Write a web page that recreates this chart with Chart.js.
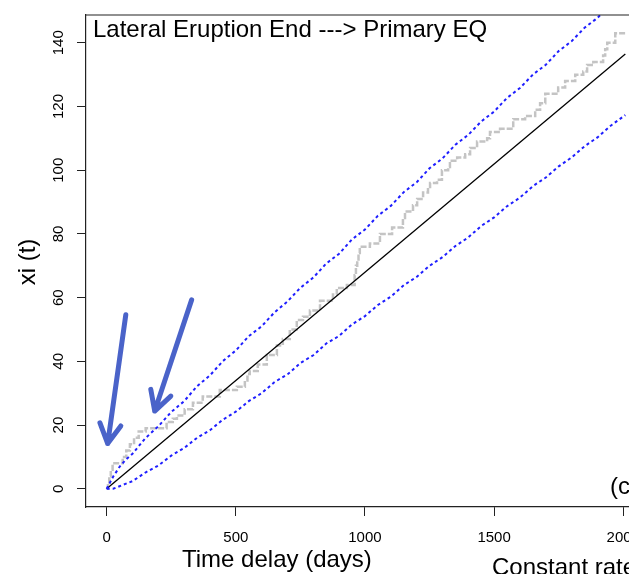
<!DOCTYPE html>
<html>
<head>
<meta charset="utf-8">
<script src="https://cdn.jsdelivr.net/npm/chart.js@4"></script>
<style>
  html, body { margin: 0; padding: 0; background: #fff; overflow: hidden; }
  #wrap { width: 700px; height: 574px; }
</style>
</head>
<body>
<div id="wrap"><canvas id="xiChart" width="700" height="574"></canvas></div>
<script>
// tick labels
const xTicks = [0, 500, 1000, 1500, 2000];
const yTicks = [0, 20, 40, 60, 80, 100, 120, 140];

// observed cumulative count (grey steps)
const eventDays = [0, 5, 10, 16, 23, 62, 76, 90, 106, 124, 151, 232, 256, 272, 302, 334, 372, 438, 504, 535, 545, 554,
  585, 620, 659, 682, 709, 736, 760, 787, 826, 876, 891, 930, 960, 965, 970, 975, 980, 1019, 1058, 1105, 1147, 1155,
  1186, 1202, 1225, 1244, 1252, 1279, 1298, 1322, 1329, 1357, 1388, 1407, 1434, 1473, 1484, 1523, 1574, 1620, 1659,
  1678, 1698, 1748, 1775, 1814, 1845, 1860, 1884, 1922, 1930, 1938, 1969, 2008];
const eventCounts = [0, 2, 4, 6, 8, 10, 12, 14, 16, 18, 19, 21, 22, 23, 25, 27, 29, 31, 32, 34, 36, 37,
  39, 42, 45, 47, 50, 53, 54, 56, 59, 61, 63, 64, 67, 70, 72, 74, 76, 77, 80, 82, 85, 87,
  89, 91, 93, 94, 96, 97, 100, 101, 103, 104, 105, 107, 109, 110, 112, 113, 116, 117, 119,
  121, 124, 126, 128, 130, 131, 133, 134, 136, 138, 140, 143, 143];

// constant rate line
const rateDays = [0, 2008];
const rateCounts = [0, 136.5];

// confidence band (blue dotted)
const bandDays = [0, 25, 50, 75, 100, 150, 200, 250, 300, 350, 400, 450, 500, 550, 600, 650, 700, 750, 800, 850,
  900, 950, 1000, 1050, 1100, 1150, 1200, 1250, 1300, 1350, 1400, 1450, 1500, 1550, 1600, 1650, 1700, 1750, 1800,
  1850, 1900, 1950, 2008];
const bandUpper = [0, 3.8, 6.9, 9.2, 11.0, 15.9, 19.6, 24.1, 27.5, 32.2, 35.6, 40.1, 43.4, 47.9, 51.0,
  55.4, 58.8, 63.1, 66.3, 70.7, 73.8, 78.3, 81.4, 85.7, 88.8, 93.1, 96.2, 100.6, 103.7, 108.0, 111.1,
  115.3, 118.4, 122.7, 125.8, 130.0, 133.1, 137.4, 140.5, 144.7, 147.8, 152.0, 155.7];
const bandLower = [0, 0, 0.8, 1.6, 2.4, 5.1, 7.3, 10.4, 12.8, 16.0, 18.4, 21.7, 24.2, 27.5, 30.0,
  33.5, 35.9, 39.5, 41.9, 45.6, 48.0, 51.6, 54.2, 57.7, 60.3, 63.9, 66.5, 70.0, 72.7, 76.2, 78.9,
  82.5, 85.2, 88.7, 91.4, 95.0, 97.7, 101.2, 104.0, 107.5, 110.3, 113.9, 117.3];

// hand-drawn arrows, in data units
const arrowTails = [[74, 54.6], [329, 59.3]];
const arrowTips  = [[4, 14.2], [186, 24.4]];

const pts = (xs, ys) => xs.map((x, i) => ({ x, y: ys[i] }));
const FONT = '"Liberation Sans", Arial, Helvetica, sans-serif';

const decorPlugin = {
    id: 'decor',
    afterDatasetsDraw(chart) {
        const { ctx, chartArea: a, scales: { x, y } } = chart;
        // box top + right
        ctx.save();
        ctx.strokeStyle = '#222';
        ctx.lineWidth = 1.2;
        ctx.beginPath();
        ctx.moveTo(a.left, a.top); ctx.lineTo(a.right, a.top); ctx.lineTo(a.right, a.bottom);
        ctx.stroke();

        // arrows
        ctx.strokeStyle = '#4a63c9';
        ctx.lineWidth = 5;
        ctx.lineCap = 'round';
        ctx.lineJoin = 'round';
        arrowTails.forEach((t, i) => {
            const x0 = x.getPixelForValue(t[0]), y0 = y.getPixelForValue(t[1]);
            const x1 = x.getPixelForValue(arrowTips[i][0]), y1 = y.getPixelForValue(arrowTips[i][1]);
            const ang = Math.atan2(y0 - y1, x0 - x1);
            const L = 22, spread = 0.5;
            ctx.beginPath();
            ctx.moveTo(x0, y0); ctx.lineTo(x1, y1);
            ctx.moveTo(x1 + L * Math.cos(ang - spread), y1 + L * Math.sin(ang - spread));
            ctx.lineTo(x1, y1);
            ctx.lineTo(x1 + L * Math.cos(ang + spread), y1 + L * Math.sin(ang + spread));
            ctx.stroke();
        });
        ctx.restore();
    },
    afterDraw(chart) {
        const { ctx } = chart;
        ctx.save();
        ctx.fillStyle = '#000';
        ctx.font = '24px ' + FONT;
        ctx.textBaseline = 'alphabetic';
        ctx.textAlign = 'left';
        ctx.fillText('Lateral Eruption End ---> Primary EQ', 93, 37);
        ctx.fillText('Time delay (days)', 182, 567);
        ctx.fillText('Constant rate', 492, 575);
        ctx.fillText('(c)', 610, 494);
        ctx.translate(35, 262);
        ctx.rotate(-Math.PI / 2);
        ctx.textAlign = 'center';
        ctx.fillText('xi (t)', 0, 0);
        ctx.restore();
    }
};

const axisCommon = {
    type: 'linear',
    grid: { display: true, drawOnChartArea: false, drawTicks: true, tickLength: 9, color: '#222', lineWidth: 1 },
    border: { display: true, color: '#222', width: 1.2 },
    ticks: { color: '#000', font: { family: FONT, size: 15 }, callback: v => String(v) }
};

new Chart(document.getElementById('xiChart'), {
    type: 'line',
    data: {
        datasets: [
            { data: pts(bandDays, bandUpper), borderColor: '#1f1fff', borderWidth: 2, borderDash: [3, 3], pointRadius: 0, tension: 0 },
            { data: pts(bandDays, bandLower), borderColor: '#1f1fff', borderWidth: 2, borderDash: [3, 3], pointRadius: 0, tension: 0 },
            { data: pts(rateDays, rateCounts), borderColor: '#000', borderWidth: 1.3, pointRadius: 0, tension: 0 },
            { data: pts(eventDays, eventCounts), borderColor: '#c4c4c4', borderWidth: 2.5, borderDash: [6, 2], stepped: true, pointRadius: 0 }
        ]
    },
    options: {
        responsive: false,
        animation: false,
        devicePixelRatio: 1,
        layout: { padding: { left: 0, top: 6, right: 54, bottom: 0 } },
        plugins: { legend: { display: false }, tooltip: { enabled: false } },
        scales: {
            x: {
                ...axisCommon,
                min: -80, max: 2088,
                afterBuildTicks: s => { s.ticks = xTicks.map(v => ({ value: v })); },
                afterFit: s => { s.height = 67; },
                ticks: { ...axisCommon.ticks, padding: 13, maxRotation: 0, minRotation: 0 }
            },
            y: {
                ...axisCommon,
                min: -5.72, max: 148.72,
                afterBuildTicks: s => { s.ticks = yTicks.map(v => ({ value: v })); },
                afterFit: s => { s.width = 86; },
                ticks: { ...axisCommon.ticks, padding: 6, minRotation: 90, maxRotation: 90, crossAlign: 'center' }
            }
        }
    },
    plugins: [decorPlugin]
});
</script>
</body>
</html>
